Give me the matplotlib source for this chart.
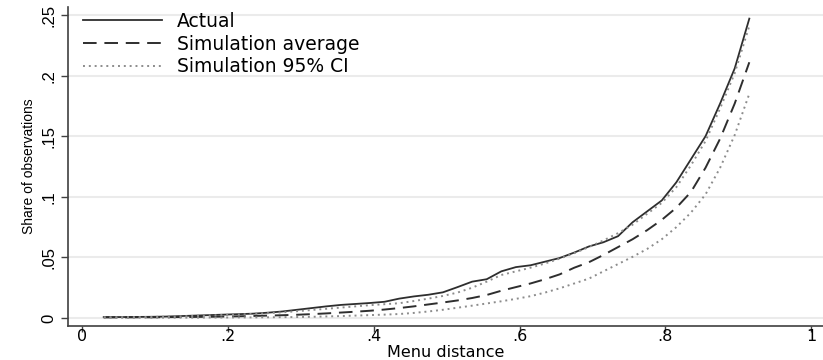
import matplotlib
matplotlib.use("Agg")
import matplotlib.pyplot as plt

# Menu distance grid shared by all series
menu_distance = [0.030, 0.055, 0.075, 0.095, 0.115, 0.135, 0.155, 0.175, 0.195, 0.215,
                 0.235, 0.255, 0.275, 0.295, 0.315, 0.335, 0.355, 0.375, 0.395, 0.415,
                 0.435, 0.455, 0.475, 0.495, 0.515, 0.535, 0.555, 0.575, 0.595, 0.615,
                 0.635, 0.655, 0.675, 0.695, 0.715, 0.735, 0.755, 0.775, 0.795, 0.815,
                 0.835, 0.855, 0.875, 0.895, 0.915]

actual = [0.0008, 0.0008, 0.0009, 0.0010, 0.0012, 0.0016, 0.0020, 0.0024, 0.0028, 0.0032,
          0.0036, 0.0044, 0.0054, 0.0068, 0.0082, 0.0096, 0.0108, 0.0116, 0.0124, 0.0134,
          0.0160, 0.0178, 0.0192, 0.0212, 0.0255, 0.0300, 0.0320, 0.0385, 0.0420, 0.0435,
          0.0465, 0.0495, 0.0540, 0.0590, 0.0625, 0.0675, 0.0790, 0.0880, 0.0970, 0.1120,
          0.1310, 0.1500, 0.1770, 0.2060, 0.2470]

sim_avg = [0.0005, 0.0005, 0.0006, 0.0006, 0.0007, 0.0008, 0.0009, 0.0010, 0.0012, 0.0014,
           0.0017, 0.0020, 0.0023, 0.0027, 0.0032, 0.0038, 0.0045, 0.0052, 0.0060, 0.0070,
           0.0082, 0.0096, 0.0112, 0.0128, 0.0145, 0.0165, 0.0190, 0.0225, 0.0255, 0.0285,
           0.0320, 0.0360, 0.0415, 0.0460, 0.0520, 0.0585, 0.0650, 0.0725, 0.0810, 0.0910,
           0.1040, 0.1240, 0.1480, 0.1770, 0.2110]

ci_upper = [0.0007, 0.0007, 0.0008, 0.0009, 0.0011, 0.0014, 0.0017, 0.0021, 0.0025, 0.0029,
            0.0034, 0.0040, 0.0047, 0.0056, 0.0066, 0.0076, 0.0086, 0.0096, 0.0106, 0.0114,
            0.0122, 0.0140, 0.0160, 0.0182, 0.0210, 0.0250, 0.0300, 0.0355, 0.0385, 0.0415,
            0.0450, 0.0490, 0.0535, 0.0585, 0.0640, 0.0700, 0.0770, 0.0860, 0.0950, 0.1080,
            0.1260, 0.1460, 0.1730, 0.2020, 0.2410]

ci_lower = [0.0002, 0.0002, 0.0002, 0.0002, 0.0003, 0.0003, 0.0003, 0.0004, 0.0004, 0.0005,
            0.0005, 0.0006, 0.0007, 0.0008, 0.0010, 0.0013, 0.0016, 0.0020, 0.0024, 0.0028,
            0.0033, 0.0042, 0.0054, 0.0068, 0.0085, 0.0102, 0.0120, 0.0138, 0.0158, 0.0180,
            0.0210, 0.0245, 0.0285, 0.0325, 0.0385, 0.0445, 0.0505, 0.0570, 0.0650, 0.0750,
            0.0870, 0.1020, 0.1240, 0.1510, 0.1850]

x_ticks = [0, 0.2, 0.4, 0.6, 0.8, 1.0]
x_ticklabels = ["0", ".2", ".4", ".6", ".8", "1"]
y_ticks = [0, 0.05, 0.10, 0.15, 0.20, 0.25]
y_ticklabels = ["0", ".05", ".1", ".15", ".2", ".25"]

# Horizontal text uses a wide face, the rotated y-axis text a narrower one
wide_family = ["DejaVu Sans"]
narrow_family = ["Liberation Sans", "DejaVu Sans"]

plt.rcParams["font.family"] = wide_family

fig = plt.figure(figsize=(8.23, 3.6), dpi=100)
ax = fig.add_axes([0.0826, 0.0944, 0.9174, 0.8862])

ax.plot(menu_distance, actual, color="#2e2e2e", lw=1.3, ls="-", label="Actual")
ax.plot(menu_distance, sim_avg, color="#2e2e2e", lw=1.4, ls=(0, (7, 4)), label="Simulation average")
ax.plot(menu_distance, ci_upper, color="#8c8c8c", lw=1.4, ls=(0, (1, 2)), label="Simulation 95% CI")
ax.plot(menu_distance, ci_lower, color="#8c8c8c", lw=1.4, ls=(0, (1, 2)))

ax.set_xlim(-0.019, 1.016)
ax.set_ylim(-0.0066, 0.2566)
ax.set_xticks(x_ticks)
ax.set_xticklabels(x_ticklabels)
ax.set_yticks(y_ticks)
ax.set_yticklabels(y_ticklabels, rotation=90, va="center",
                   family=narrow_family, fontsize=12)

for y in y_ticks:
    ax.axhline(y, color="#ebebeb", lw=1.5, zorder=0)

for s in ["top", "right"]:
    ax.spines[s].set_visible(False)
for s in ["left", "bottom"]:
    ax.spines[s].set_color("#404040")
    ax.spines[s].set_linewidth(1.2)

ax.tick_params(axis="x", direction="out", length=4, width=1, color="#404040",
               labelsize=11.5, labelcolor="black", pad=-1.5)
ax.tick_params(axis="y", direction="out", length=5, width=1, color="#404040",
               labelcolor="black", pad=3)
ax.set_xlabel("Menu distance", fontsize=11.5, va="center")
ax.xaxis.set_label_coords(0.5, -0.084)
ax.set_ylabel("Share of observations", family=narrow_family, fontsize=10, labelpad=4)

leg = ax.legend(loc="upper left", frameon=False, fontsize=13.5, handlelength=4.2,
                handletextpad=0.8, labelspacing=0.2, borderaxespad=0.2,
                bbox_to_anchor=(0.005, 1.02))

fig.savefig("out.png", dpi=100)
